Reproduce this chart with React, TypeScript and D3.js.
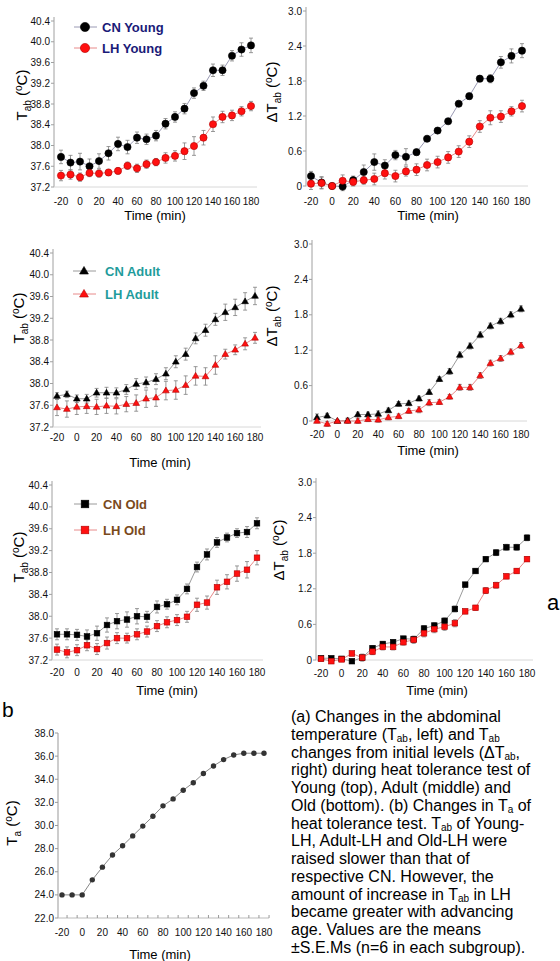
import React from 'react';
import * as d3 from 'd3';

const times = [-20, -10, 0, 10, 20, 30, 40, 50, 60, 70, 80, 90, 100, 110, 120, 130, 140, 150, 160, 170, 180];
const xTickValues = [-20, 0, 20, 40, 60, 80, 100, 120, 140, 160, 180];

const tabTicks = [37.2, 37.6, 38.0, 38.4, 38.8, 39.2, 39.6, 40.0, 40.4];
const dTabTicks = [0, 0.6, 1.2, 1.8, 2.4, 3.0];
const taTicks = [22, 24, 26, 28, 30, 32, 34, 36, 38];

// Young
const cnYoungTab = [37.78, 37.67, 37.69, 37.6, 37.7, 37.85, 38.03, 37.97, 38.15, 38.12, 38.19, 38.42, 38.55, 38.71, 39.01, 39.15, 39.45, 39.45, 39.73, 39.85, 39.93];
const cnYoungTabErr = [0.13, 0.14, 0.16, 0.14, 0.14, 0.13, 0.13, 0.13, 0.11, 0.1, 0.1, 0.1, 0.1, 0.1, 0.1, 0.09, 0.12, 0.1, 0.1, 0.13, 0.14];
const lhYoungTab = [37.42, 37.44, 37.39, 37.47, 37.46, 37.48, 37.51, 37.61, 37.56, 37.64, 37.68, 37.76, 37.8, 37.89, 37.99, 38.15, 38.41, 38.55, 38.58, 38.66, 38.76];
const lhYoungTabErr = [0.1, 0.09, 0.08, 0.07, 0.07, 0.06, 0.06, 0.07, 0.08, 0.08, 0.07, 0.1, 0.1, 0.16, 0.18, 0.14, 0.14, 0.11, 0.1, 0.09, 0.09];
const cnYoungD = [0.17, 0.06, 0.0, -0.01, 0.1, 0.24, 0.41, 0.35, 0.53, 0.5, 0.58, 0.81, 0.95, 1.11, 1.41, 1.54, 1.84, 1.84, 2.12, 2.23, 2.32];
const cnYoungDErr = [0.08, 0.1, 0.02, 0.07, 0.07, 0.12, 0.14, 0.1, 0.08, 0.14, 0.05, 0.05, 0.05, 0.05, 0.05, 0.05, 0.05, 0.07, 0.1, 0.12, 0.12];
const lhYoungD = [0.04, 0.05, 0.0, 0.09, 0.07, 0.1, 0.12, 0.22, 0.17, 0.25, 0.28, 0.36, 0.41, 0.49, 0.59, 0.76, 1.02, 1.17, 1.19, 1.28, 1.37];
const lhYoungDErr = [0.1, 0.1, 0.02, 0.1, 0.07, 0.07, 0.1, 0.1, 0.1, 0.08, 0.1, 0.1, 0.1, 0.1, 0.1, 0.1, 0.1, 0.12, 0.1, 0.08, 0.1];

// Adult
const cnAdultTab = [37.77, 37.8, 37.72, 37.72, 37.83, 37.83, 37.83, 37.89, 37.99, 38.02, 38.08, 38.18, 38.4, 38.54, 38.83, 38.98, 39.18, 39.31, 39.4, 39.51, 39.61];
const cnAdultTabErr = [0.06, 0.06, 0.07, 0.08, 0.08, 0.1, 0.09, 0.09, 0.1, 0.1, 0.1, 0.11, 0.11, 0.11, 0.1, 0.11, 0.11, 0.15, 0.15, 0.16, 0.16];
const lhAdultTab = [37.56, 37.53, 37.57, 37.58, 37.57, 37.59, 37.58, 37.62, 37.64, 37.72, 37.74, 37.87, 37.88, 37.97, 38.14, 38.13, 38.34, 38.54, 38.62, 38.73, 38.84];
const lhAdultTabErr = [0.15, 0.15, 0.14, 0.13, 0.14, 0.14, 0.14, 0.14, 0.15, 0.16, 0.16, 0.17, 0.17, 0.17, 0.17, 0.16, 0.17, 0.09, 0.09, 0.11, 0.1];
const cnAdultD = [0.06, 0.09, 0, 0.01, 0.11, 0.11, 0.12, 0.18, 0.29, 0.3, 0.38, 0.49, 0.71, 0.84, 1.12, 1.27, 1.46, 1.61, 1.69, 1.8, 1.9];
const cnAdultDErr = [0.06, 0.04, 0.02, 0.04, 0.04, 0.04, 0.05, 0.04, 0.04, 0.04, 0.04, 0.04, 0.04, 0.05, 0.05, 0.05, 0.05, 0.05, 0.05, 0.05, 0.05];
const lhAdultD = [0.0, -0.05, 0, 0, 0, 0.03, 0.02, 0.06, 0.08, 0.17, 0.19, 0.31, 0.32, 0.41, 0.57, 0.57, 0.77, 0.98, 1.06, 1.17, 1.28];
const lhAdultDErr = [0.03, 0.04, 0.02, 0.04, 0.04, 0.04, 0.04, 0.04, 0.04, 0.04, 0.05, 0.05, 0.04, 0.04, 0.05, 0.05, 0.05, 0.05, 0.05, 0.05, 0.05];

// Old
const cnOldTab = [37.67, 37.67, 37.66, 37.63, 37.69, 37.84, 37.91, 37.94, 38.0, 37.99, 38.17, 38.22, 38.3, 38.5, 38.9, 39.13, 39.35, 39.44, 39.52, 39.54, 39.7];
const cnOldTabErr = [0.1, 0.1, 0.1, 0.12, 0.13, 0.13, 0.14, 0.14, 0.14, 0.1, 0.11, 0.09, 0.09, 0.09, 0.09, 0.1, 0.09, 0.08, 0.08, 0.1, 0.1];
const lhOldTab = [37.39, 37.34, 37.38, 37.47, 37.4, 37.51, 37.6, 37.6, 37.67, 37.72, 37.82, 37.89, 37.93, 37.99, 38.21, 38.25, 38.53, 38.63, 38.78, 38.85, 39.07];
const lhOldTabErr = [0.1, 0.1, 0.1, 0.1, 0.1, 0.11, 0.1, 0.09, 0.1, 0.1, 0.1, 0.1, 0.1, 0.1, 0.12, 0.12, 0.13, 0.13, 0.14, 0.15, 0.13];
const cnOldD = [0.03, 0.03, 0.02, -0.02, 0.04, 0.2, 0.27, 0.3, 0.36, 0.35, 0.53, 0.58, 0.66, 0.86, 1.27, 1.5, 1.7, 1.81, 1.9, 1.9, 2.06];
const cnOldDErr = [0.03, 0.03, 0.02, 0.03, 0.03, 0.04, 0.04, 0.04, 0.04, 0.05, 0.05, 0.05, 0.05, 0.05, 0.04, 0.04, 0.04, 0.05, 0.05, 0.05, 0.05];
const lhOldD = [0.02, -0.02, 0.01, 0.11, 0.04, 0.14, 0.22, 0.22, 0.3, 0.34, 0.45, 0.52, 0.56, 0.62, 0.82, 0.88, 1.17, 1.26, 1.41, 1.5, 1.7];
const lhOldDErr = [0.03, 0.04, 0.02, 0.04, 0.06, 0.05, 0.05, 0.05, 0.05, 0.06, 0.06, 0.06, 0.06, 0.06, 0.04, 0.04, 0.05, 0.05, 0.04, 0.04, 0.04];

// ambient temperature
const taValues = [24.0, 24.0, 24.0, 25.3, 26.4, 27.45, 28.25, 29.1, 29.95, 30.8, 31.7, 32.3, 33.05, 33.7, 34.5, 35.15, 35.7, 36.1, 36.25, 36.25, 36.25];

const caption = [
  [['(a) Changes in the abdominal']],
  [['temperature (T'], ['ab', 1], [', left) and T'], ['ab', 1]],
  [['changes from initial levels (\u0394T'], ['ab', 1], [',']],
  [['right) during heat tolerance test of']],
  [['Young (top), Adult (middle) and']],
  [['Old (bottom). (b) Changes in T'], ['a', 1], [' of']],
  [['heat tolerance test. T'], ['ab', 1], [' of Young-']],
  [['LH, Adult-LH and Old-LH were']],
  [['raised slower than that of']],
  [['respective CN. However, the']],
  [['amount of increase in T'], ['ab', 1], [' in LH']],
  [['became greater with advancing']],
  [['age. Values are the means']],
  [['\u00b1S.E.Ms (n=6 in each subgroup).']],
];

const FONT = 'Liberation Sans, Arial, sans-serif';
const RED = '#ff1010';

function Marker({ shape, x, y, fill, size }) {
  const stroke = fill === RED ? '#b00000' : '#000';
  if (shape === 'circle') return <circle cx={x} cy={y} r={size} fill={fill} stroke={stroke} strokeWidth={0.6} />;
  if (shape === 'square') return <rect x={x - size} y={y - size} width={size * 2} height={size * 2} fill={fill} stroke={stroke} strokeWidth={0.6} />;
  const h = size * 1.8;
  const p = d3.path();
  p.moveTo(x, y - h * 0.6);
  p.lineTo(x + size * 1.05, y + h * 0.4);
  p.lineTo(x - size * 1.05, y + h * 0.4);
  p.closePath();
  return <path d={p.toString()} fill={fill} stroke={stroke} strokeWidth={0.6} />;
}

function YLabel({ x, y, delta, sub }) {
  return (
    <text transform={`translate(${x},${y}) rotate(-90)`} textAnchor="middle" fontSize={15} fontFamily={FONT} fill="#000">
      {delta ? '\u0394T' : 'T'}
      <tspan fontSize={10} dy={4}>{sub}</tspan>
      <tspan dy={-4}> (</tspan>
      <tspan fontSize={10} dy={-5}>o</tspan>
      <tspan dy={5}>C)</tspan>
    </text>
  );
}

function Panel({ c }) {
  const x = d3.scaleLinear().domain([-20, 180]).range([c.x0, c.x1]);
  const y = d3.scaleLinear().domain(c.domain).range([c.yBottom, c.yTop]);
  const fmt = c.fmt;
  return (
    <g fontFamily={FONT}>
      <line x1={c.axisX} x2={c.axisX} y1={c.yTop - 4} y2={c.yBottom} stroke="#a0a0a0" />
      <line x1={c.axisX} x2={c.x1 + 6} y1={c.yBottom} y2={c.yBottom} stroke="#d8d8d8" />
      {c.ticks.map((t) => (
        <g key={t}>
          <line x1={c.axisX - 3} x2={c.axisX} y1={y(t)} y2={y(t)} stroke="#a0a0a0" />
          <text x={c.axisX - 4} y={y(t) + 3.5} textAnchor="end" fontSize={10} fill="#111">{fmt(t)}</text>
        </g>
      ))}
      {xTickValues.map((t) => (
        <text key={t} x={x(t)} y={c.tickY} textAnchor="middle" fontSize={10} fill="#111">{t}</text>
      ))}
      <text x={c.xLabelX} y={c.xLabelY} textAnchor="middle" fontSize={13} fill="#000">Time (min)</text>
      {c.series.map((s, si) => {
        const line = d3.line().x((_, i) => x(times[i])).y((d) => y(d));
        return (
          <g key={si}>
            <path d={line(s.values)} fill="none" stroke={s.line} strokeWidth={1} />
            {s.values.map((v, i) => (
              <g key={i} stroke="#808080" strokeWidth={0.8}>
                <line x1={x(times[i])} x2={x(times[i])} y1={y(v - s.errs[i])} y2={y(v + s.errs[i])} />
                <line x1={x(times[i]) - 2} x2={x(times[i]) + 2} y1={y(v - s.errs[i])} y2={y(v - s.errs[i])} />
                <line x1={x(times[i]) - 2} x2={x(times[i]) + 2} y1={y(v + s.errs[i])} y2={y(v + s.errs[i])} />
              </g>
            ))}
          </g>
        );
      })}
      {c.series.map((s, si) =>
        s.values.map((v, i) => <Marker key={`${si}-${i}`} shape={c.shape} x={x(times[i])} y={y(v)} fill={s.fill} size={c.size} />)
      )}
      {c.legend &&
        c.legend.items.map((it, i) => (
          <g key={i}>
            <line x1={c.legend.x - 11} x2={c.legend.x + 12} y1={c.legend.ys[i]} y2={c.legend.ys[i]} stroke={c.series[i].line} />
            <Marker shape={c.shape} x={c.legend.x} y={c.legend.ys[i]} fill={c.series[i].fill} size={c.size + 1} />
            <text x={c.legend.tx} y={c.legend.ys[i] + 5} fontSize={13} fontWeight="bold" fill={c.legend.color}>{it}</text>
          </g>
        ))}
      <YLabel x={c.ylx} y={c.yly} delta={c.delta} sub="ab" />
    </g>
  );
}

const f1 = d3.format('.1f');
const fD = (t) => (t === 0 ? '0' : d3.format('.1f')(t));

const CN_LINE_Y = '#9a9ab4';
const CN_LINE = '#9a9a9a';
const LH_LINE = '#e88a8a';

const panels = [
  {
    axisX: 54, x0: 61, x1: 251, yTop: 21, yBottom: 187, domain: [37.2, 40.4], ticks: tabTicks, fmt: f1,
    tickY: 205, xLabelX: 155, xLabelY: 220, shape: 'circle', size: 3.6, ylx: 27, yly: 95,
    series: [
      { values: cnYoungTab, errs: cnYoungTabErr, fill: '#000', line: CN_LINE_Y },
      { values: lhYoungTab, errs: lhYoungTabErr, fill: RED, line: LH_LINE },
    ],
    legend: { x: 85, tx: 102, ys: [27, 48], items: ['CN Young', 'LH Young'], color: '#1a1a78' },
  },
  {
    axisX: 306, x0: 311, x1: 522, yTop: 11, yBottom: 186, domain: [0, 3], ticks: dTabTicks, fmt: fD,
    tickY: 205, xLabelX: 428, xLabelY: 220, shape: 'circle', size: 3.6, ylx: 277, yly: 92, delta: true,
    series: [
      { values: cnYoungD, errs: cnYoungDErr, fill: '#000', line: CN_LINE_Y },
      { values: lhYoungD, errs: lhYoungDErr, fill: RED, line: LH_LINE },
    ],
  },
  {
    axisX: 53, x0: 57, x1: 255, yTop: 253, yBottom: 427, domain: [37.2, 40.4], ticks: tabTicks, fmt: f1,
    tickY: 441, xLabelX: 160, xLabelY: 467, shape: 'triangle', size: 3.2, ylx: 24, yly: 318,
    series: [
      { values: cnAdultTab, errs: cnAdultTabErr, fill: '#000', line: CN_LINE },
      { values: lhAdultTab, errs: lhAdultTabErr, fill: RED, line: LH_LINE },
    ],
    legend: { x: 84, tx: 105, ys: [271, 294], items: ['CN Adult', 'LH Adult'], color: '#1f9c9c' },
  },
  {
    axisX: 312, x0: 317, x1: 521, yTop: 244, yBottom: 421, domain: [0, 3], ticks: dTabTicks, fmt: fD,
    tickY: 438, xLabelX: 428, xLabelY: 455, shape: 'triangle', size: 3.2, ylx: 277, yly: 316, delta: true,
    series: [
      { values: cnAdultD, errs: cnAdultDErr, fill: '#000', line: CN_LINE },
      { values: lhAdultD, errs: lhAdultDErr, fill: RED, line: LH_LINE },
    ],
  },
  {
    axisX: 52, x0: 57, x1: 257, yTop: 485, yBottom: 660, domain: [37.2, 40.4], ticks: tabTicks, fmt: f1,
    tickY: 676, xLabelX: 167, xLabelY: 695, shape: 'square', size: 2.8, ylx: 24, yly: 557,
    series: [
      { values: cnOldTab, errs: cnOldTabErr, fill: '#000', line: CN_LINE },
      { values: lhOldTab, errs: lhOldTabErr, fill: RED, line: LH_LINE },
    ],
    legend: { x: 85, tx: 103, ys: [504, 530], items: ['CN Old', 'LH Old'], color: '#7a4a1c' },
  },
  {
    axisX: 316, x0: 321, x1: 527, yTop: 482, yBottom: 660, domain: [0, 3], ticks: dTabTicks, fmt: fD,
    tickY: 677, xLabelX: 437, xLabelY: 695, shape: 'square', size: 2.8, ylx: 284, yly: 550, delta: true,
    series: [
      { values: cnOldD, errs: cnOldDErr, fill: '#000', line: CN_LINE },
      { values: lhOldD, errs: lhOldDErr, fill: RED, line: LH_LINE },
    ],
  },
];

function AmbientPanel() {
  const axisX = 58, yTop = 733, yBottom = 918;
  const x = d3.scaleLinear().domain([-20, 180]).range([62, 264]);
  const y = d3.scaleLinear().domain([22, 38]).range([yBottom, yTop]);
  const line = d3.line().x((_, i) => x(times[i])).y((d) => y(d));
  const bounds = times.map((t) => t + 5);
  return (
    <g fontFamily={FONT}>
      <line x1={axisX} x2={axisX} y1={yTop} y2={yBottom} stroke="#999" />
      <line x1={axisX} x2={x(185)} y1={yBottom} y2={yBottom} stroke="#bbb" />
      {bounds.map((t) => (
        <line key={t} x1={x(t)} x2={x(t)} y1={yBottom} y2={yBottom - 3} stroke="#999" />
      ))}
      {taTicks.map((t) => (
        <g key={t}>
          <line x1={axisX - 3} x2={axisX} y1={y(t)} y2={y(t)} stroke="#999" />
          <text x={axisX - 4} y={y(t) + 3.5} textAnchor="end" fontSize={10} fill="#111">{f1(t)}</text>
        </g>
      ))}
      {xTickValues.map((t) => (
        <text key={t} x={x(t)} y={936} textAnchor="middle" fontSize={10} fill="#111">{t}</text>
      ))}
      <text x={160} y={959} textAnchor="middle" fontSize={13}>Time (min)</text>
      <path d={line(taValues)} fill="none" stroke="#888" strokeWidth={1} />
      {taValues.map((v, i) => (
        <circle key={i} cx={x(times[i])} cy={y(v)} r={2.7} fill="#333" />
      ))}
      <text transform="translate(17,823) rotate(-90)" textAnchor="middle" fontSize={15}>
        T<tspan fontSize={10} dy={4}>a</tspan>
        <tspan dy={-4}> (</tspan>
        <tspan fontSize={10} dy={-5}>o</tspan>
        <tspan dy={5}>C)</tspan>
      </text>
    </g>
  );
}

function Caption() {
  return (
    <text fontFamily={FONT} fontSize={16} fill="#000">
      {caption.map((segs, li) => (
        <tspan key={li} x={291} y={722 + li * 17.77}>
          {segs.map((s, si) =>
            s[1] ? (
              <tspan key={si} fontSize={10} dy={2}>{s[0]}</tspan>
            ) : (
              <tspan key={si} dy={si > 0 && segs[si - 1][1] ? -2 : 0}>{s[0]}</tspan>
            )
          )}
        </tspan>
      ))}
    </text>
  );
}

export default function App() {
  return (
    <svg width={560} height={961} style={{ position: 'absolute', left: 0, top: 0, background: '#fff' }}>
      <rect width={560} height={961} fill="#fff" />
      {panels.map((c, i) => (
        <Panel key={i} c={c} />
      ))}
      <AmbientPanel />
      <text x={547} y={610} fontFamily={FONT} fontSize={22}>a</text>
      <text x={2} y={717} fontFamily={FONT} fontSize={21}>b</text>
      <Caption />
    </svg>
  );
}
